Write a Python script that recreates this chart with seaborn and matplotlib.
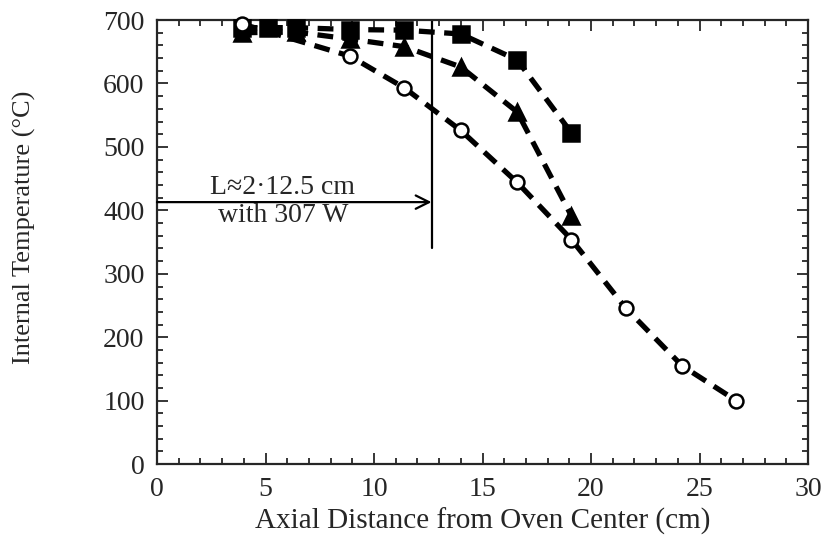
"""
Internal temperature vs axial distance from oven center
"""

#Packages:
import seaborn as sns
import matplotlib.pyplot as plt
import pandas as pd
from matplotlib.ticker import MultipleLocator

#-----------------------------------
#Data:
x_circle = [3.9, 8.9, 11.4, 14.0, 16.6, 19.1, 21.6, 24.2, 26.7]
t_circle = [694, 643, 593, 526, 444, 354, 246, 155, 100]

x_triangle = [3.9, 6.4, 8.9, 11.4, 14.0, 16.6, 19.1]
t_triangle = [680, 681, 670, 658, 626, 555, 391]

x_square = [3.9, 5.1, 6.4, 8.9, 11.4, 14.0, 16.6, 19.1]
t_square = [688, 688, 688, 685, 684, 678, 637, 522]

x_length = 12.65
t_arrow = 413
t_line_bottom = 340

#-----------------------------------
#Plot:
sns.set_style("ticks")
plt.rcParams['font.family'] = ['Liberation Serif', 'DejaVu Serif']

fig = plt.figure(figsize=(8.22, 5.41), dpi=100)
ax = fig.add_axes([0.191, 0.142, 0.792, 0.821])

series = [
    (x_square, t_square, 's', 'black', 12),
    (x_triangle, t_triangle, '^', 'black', 12),
    (x_circle, t_circle, 'o', 'white', 10),
]
for xs, ts, mk, face, ms in series:
    df = pd.DataFrame({'x': xs, 't': ts})
    sns.lineplot(data=df, x='x', y='t', ax=ax, color='black', lw=3.8,
                 sort=False, estimator=None, dashes=False,
                 linestyle=(0, (3, 1.8)), clip_on=False)
    ax.plot(df['x'], df['t'], linestyle='none', marker=mk, ms=ms,
            mfc=face, mec='black', mew=1.8, clip_on=False, zorder=5)

# heated length marker
ax.plot([x_length, x_length], [t_line_bottom, 700], color='black', lw=1.6)
ax.annotate('', xy=(x_length, t_arrow), xytext=(0, t_arrow),
            arrowprops=dict(arrowstyle='->', color='black', lw=1.6,
                            mutation_scale=24, shrinkA=0, shrinkB=0))
ax.text(5.8, t_arrow + 4, 'L≈2·12.5 cm', ha='center', va='bottom', fontsize=20)
ax.text(5.8, t_arrow - 2, 'with 307 W', ha='center', va='top', fontsize=20)

ax.set_xlim(0, 30)
ax.set_ylim(0, 700)
ax.xaxis.set_major_locator(MultipleLocator(5))
ax.xaxis.set_minor_locator(MultipleLocator(1))
ax.yaxis.set_major_locator(MultipleLocator(100))
ax.yaxis.set_minor_locator(MultipleLocator(20))
ax.tick_params(which='both', direction='in', top=True, right=True,
               width=1.3, labelsize=20, pad=9)
ax.tick_params(which='major', length=8)
ax.tick_params(which='minor', length=4)
for s in ax.spines.values():
    s.set_linewidth(1.6)

ax.set_xlabel('Axial Distance from Oven Center (cm)', fontsize=21, labelpad=4)
ax.set_ylabel('Internal Temperature (°C)', fontsize=19, va='center')
ax.yaxis.set_label_coords(-0.203, 0.534)

plt.savefig('out.png', dpi=100)
